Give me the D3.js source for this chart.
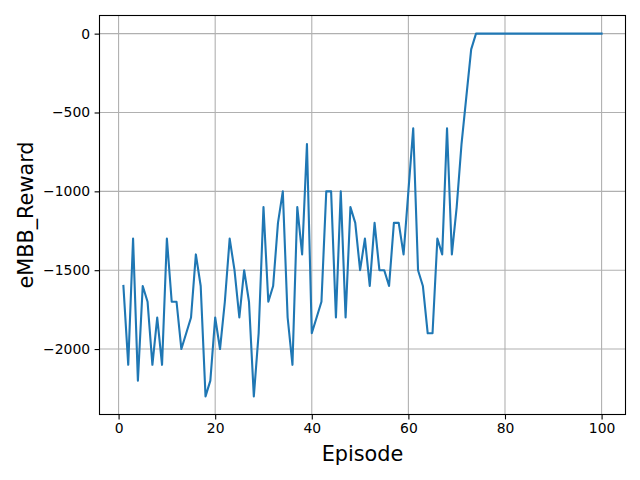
<!DOCTYPE html>
<html>
<head>
<meta charset="utf-8">
<script src="https://cdn.jsdelivr.net/npm/d3@7"></script>
<style>
  body { margin: 0; background: #fff; }
  text { font-family: "DejaVu Sans", sans-serif; fill: #000; }
</style>
</head>
<body>
<div id="chart"></div>
<script>
'use strict';
// eMBB reward per episode
var rewards = [
  -1600, -2100, -1300, -2200, -1600, -1700, -2100, -1800, -2100, -1300,
  -1700, -1700, -2000, -1900, -1800, -1400, -1600, -2300, -2200, -1800,
  -2000, -1700, -1300, -1500, -1800, -1500, -1700, -2300, -1900, -1100,
  -1700, -1600, -1200, -1000, -1800, -2100, -1100, -1400,  -700, -1900,
  -1800, -1700, -1000, -1000, -1800, -1000, -1800, -1100, -1200, -1500,
  -1300, -1600, -1200, -1500, -1500, -1600, -1200, -1200, -1400, -1000,
   -600, -1500, -1600, -1900, -1900, -1300, -1400,  -600, -1400, -1100,
   -700,  -400,  -100,     0,     0,     0,     0,     0,     0,     0,
      0,     0,     0,     0,     0,     0,     0,     0,     0,     0,
      0,     0,     0,     0,     0,     0,     0,     0,     0,     0
];
var episodes = rewards.map(function(d, i) { return i + 1; });
var xTicks = [0, 20, 40, 60, 80, 100];
var yTicks = [-2000, -1500, -1000, -500, 0];
var xTitle = "Episode";
var yTitle = "eMBB_Reward";

var width = 640, height = 480;
var margin = {top: 15.5, right: 14.5, bottom: 65.5, left: 99.5};
var plotW = width - margin.left - margin.right;
var plotH = height - margin.top - margin.bottom;

var svg = d3.select("#chart").append("svg")
        .attr("width", width)
        .attr("height", height);

// matplotlib style 5% margins
var xMin = d3.min(episodes), xMax = d3.max(episodes);
var yMin = d3.min(rewards), yMax = d3.max(rewards);
var xPad = (xMax - xMin) * 0.05, yPad = (yMax - yMin) * 0.05;

var x = d3.scaleLinear()
        .domain([xMin - xPad, xMax + xPad])
        .range([0, plotW]);
var y = d3.scaleLinear()
        .domain([yMin - yPad, yMax + yPad])
        .range([plotH, 0]);

var g = svg.append("g")
        .attr("transform", "translate(" + margin.left + "," + margin.top + ")");

// grid
g.append("g").selectAll("line")
        .data(xTicks)
        .enter().append("line")
        .attr("x1", function(d) { return x(d); })
        .attr("x2", function(d) { return x(d); })
        .attr("y1", 0)
        .attr("y2", plotH)
        .style("stroke", "#b0b0b0")
        .style("stroke-width", 1.1);
g.append("g").selectAll("line")
        .data(yTicks)
        .enter().append("line")
        .attr("x1", 0)
        .attr("x2", plotW)
        .attr("y1", function(d) { return y(d); })
        .attr("y2", function(d) { return y(d); })
        .style("stroke", "#b0b0b0")
        .style("stroke-width", 1.1);

// the line
var line = d3.line()
        .x(function(d, i) { return x(episodes[i]); })
        .y(function(d) { return y(d); });
g.append("path")
        .datum(rewards)
        .attr("d", line)
        .style("fill", "none")
        .style("stroke", "#1f77b4")
        .style("stroke-width", 2.1)
        .style("stroke-linejoin", "round")
        .style("stroke-linecap", "square");

// axes
var fmt = d3.format("d");
var xAxis = g.append("g")
        .attr("transform", "translate(0," + plotH + ")")
        .call(d3.axisBottom(x).tickValues(xTicks).tickFormat(fmt)
              .tickSizeInner(4.9).tickSizeOuter(0).tickPadding(4));
var yAxis = g.append("g")
        .call(d3.axisLeft(y).tickValues(yTicks).tickFormat(fmt)
              .tickSizeInner(4.9).tickSizeOuter(0).tickPadding(4.5));
[xAxis, yAxis].forEach(function(a) {
    a.select(".domain").remove();
    a.selectAll("line").style("stroke", "#000").style("stroke-width", 1.1);
    a.selectAll("text")
        .style("font-size", "13.9px")
        .style("font-family", "DejaVu Sans, sans-serif")
        .attr("fill", "#000");
});

// frame
g.append("rect")
        .attr("x", 0)
        .attr("y", 0)
        .attr("width", plotW)
        .attr("height", plotH)
        .style("fill", "none")
        .style("stroke", "#000")
        .style("stroke-width", 1.1);

// titles
svg.append("text")
        .attr("x", margin.left + plotW / 2)
        .attr("y", 461)
        .attr("text-anchor", "middle")
        .style("font-size", "20.8px")
        .text(xTitle);
svg.append("text")
        .attr("transform", "translate(33," + (margin.top + plotH / 2) + ") rotate(-90)")
        .attr("text-anchor", "middle")
        .style("font-size", "20.8px")
        .text(yTitle);
</script>
</body>
</html>
